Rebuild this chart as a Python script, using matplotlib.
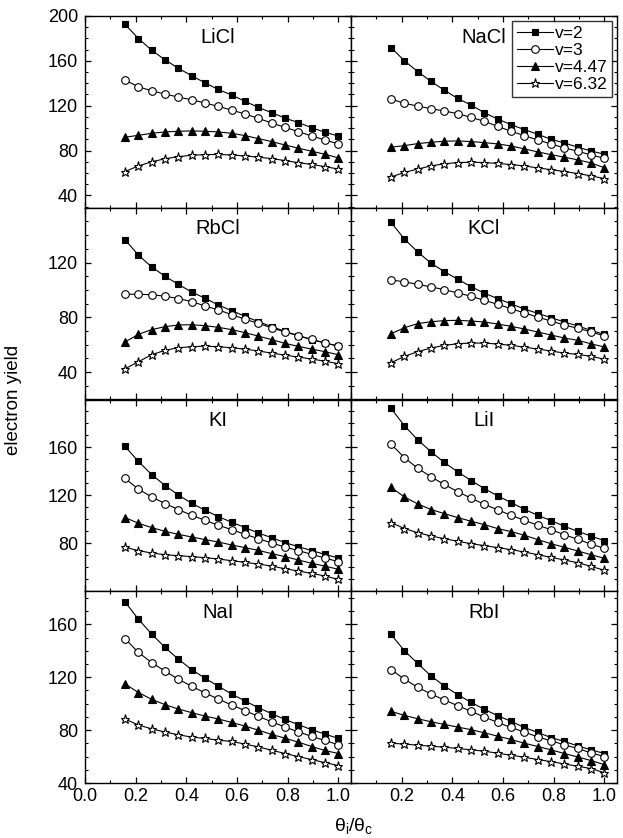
import matplotlib
matplotlib.use("Agg")
import matplotlib.pyplot as plt
from matplotlib.ticker import MultipleLocator, FixedLocator

plt.rcParams['font.family'] = ['Liberation Sans', 'DejaVu Sans']

theta = [0.158, 0.211, 0.263, 0.316, 0.368, 0.421, 0.474, 0.526, 0.579,
         0.632, 0.684, 0.737, 0.789, 0.842, 0.895, 0.947, 1.0]

series_labels = ["v=2", "v=3", "v=4.47", "v=6.32"]
panel_names = ["LiCl", "NaCl", "RbCl", "KCl", "KI", "LiI", "NaI", "RbI"]

LiCl = [
    [192.6, 179.9, 169.5, 160.9, 153.5, 146.7, 140.4, 134.5, 129.5, 123.9, 118.5, 113.8, 109.0, 104.9, 100.4, 96.3, 93.0],
    [142.8, 136.9, 133.3, 130.4, 127.7, 125.3, 122.4, 119.4, 116.1, 112.6, 108.7, 104.6, 100.7, 96.9, 93.0, 89.5, 85.9],
    [91.9, 93.6, 95.4, 96.6, 97.2, 97.5, 97.2, 96.6, 95.4, 93.3, 90.7, 88.0, 85.0, 82.1, 79.4, 76.7, 73.5],
    [61.3, 66.3, 70.0, 72.7, 74.6, 75.8, 76.4, 76.5, 76.0, 75.2, 74.1, 72.8, 71.1, 69.2, 67.6, 65.7, 63.5],
]
NaCl = [
    [171.9, 160.0, 150.5, 141.6, 133.9, 126.5, 120.6, 113.8, 108.1, 103.1, 98.7, 94.5, 90.1, 86.8, 83.0, 79.7, 76.7],
    [125.9, 122.1, 119.7, 117.3, 115.3, 112.9, 109.6, 106.1, 101.6, 97.2, 93.3, 89.5, 85.9, 82.4, 79.4, 76.1, 73.2],
    [83.0, 84.4, 86.2, 87.4, 88.3, 88.6, 88.0, 87.1, 85.9, 84.1, 81.5, 78.8, 76.4, 74.1, 71.7, 69.0, 64.7],
    [56.5, 60.5, 63.5, 66.3, 68.2, 69.3, 69.6, 69.3, 68.5, 67.5, 66.3, 64.5, 63.0, 61.3, 59.5, 57.5, 55.0],
]
RbCl = [
    [136.6, 125.4, 116.8, 110.0, 104.1, 98.5, 93.9, 89.0, 84.9, 80.7, 76.8, 73.2, 69.8, 66.6, 63.7, 61.2, 59.0],
    [96.9, 96.8, 96.5, 95.4, 93.7, 91.5, 88.3, 85.4, 82.0, 78.6, 75.6, 72.3, 69.3, 66.6, 63.9, 61.3, 59.0],
    [62.0, 67.6, 71.0, 73.2, 74.4, 74.6, 73.9, 72.7, 71.0, 68.8, 66.3, 63.7, 61.0, 58.8, 56.8, 54.9, 52.7],
    [42.4, 47.6, 52.7, 55.9, 57.8, 58.5, 59.0, 58.5, 57.8, 56.8, 55.4, 53.9, 52.4, 51.0, 49.5, 48.0, 46.1],
]
KCl = [
    [149.3, 137.1, 127.8, 119.5, 113.4, 107.8, 102.4, 97.6, 93.7, 89.8, 86.1, 82.9, 79.8, 76.6, 73.7, 70.5, 67.6],
    [107.3, 105.9, 104.1, 102.2, 100.2, 97.8, 95.4, 92.4, 89.5, 86.3, 83.2, 80.2, 77.3, 74.4, 72.0, 69.5, 66.3],
    [68.0, 72.4, 75.4, 76.8, 77.6, 77.8, 77.3, 76.6, 75.1, 73.4, 71.5, 69.3, 67.1, 64.9, 63.2, 60.7, 58.3],
    [46.8, 51.5, 54.9, 57.6, 59.5, 60.7, 61.2, 61.2, 60.5, 59.5, 58.3, 56.8, 55.4, 53.9, 52.9, 51.5, 49.5],
]
KI = [
    [160.8, 148.3, 137.4, 128.2, 120.4, 113.4, 107.6, 102.3, 97.6, 93.1, 88.6, 84.7, 80.6, 77.2, 73.9, 70.8, 67.7],
    [134.1, 125.2, 118.7, 113.2, 108.2, 103.4, 99.2, 95.1, 91.4, 87.5, 83.9, 80.3, 76.9, 73.9, 70.8, 67.7, 64.7],
    [101.5, 96.7, 93.1, 90.0, 87.5, 85.3, 83.1, 81.1, 78.6, 76.4, 74.1, 71.4, 68.9, 66.1, 63.3, 61.0, 58.3],
    [76.7, 73.9, 71.9, 70.5, 69.7, 68.9, 68.0, 66.9, 65.5, 64.1, 62.7, 61.0, 58.8, 56.9, 54.9, 52.7, 49.9],
]
LiI = [
    [192.6, 178.1, 166.4, 156.4, 147.5, 139.7, 132.4, 125.7, 119.6, 114.0, 108.4, 103.4, 99.0, 94.2, 90.0, 86.1, 82.2],
    [162.8, 151.4, 142.7, 135.5, 129.1, 123.2, 117.6, 112.6, 107.9, 103.4, 99.2, 95.1, 91.4, 87.2, 83.3, 79.4, 75.8],
    [126.6, 118.7, 112.9, 108.2, 104.8, 101.5, 98.4, 95.6, 92.3, 89.8, 86.7, 83.1, 79.7, 76.7, 73.6, 70.5, 67.5],
    [97.3, 92.3, 88.9, 86.1, 83.9, 81.7, 79.7, 78.1, 76.4, 74.7, 72.8, 70.5, 68.3, 66.1, 63.8, 60.8, 57.5],
]
NaI = [
    [177.0, 163.8, 152.7, 142.5, 133.7, 125.8, 119.2, 113.2, 107.3, 102.0, 97.0, 92.4, 88.1, 84.1, 80.3, 77.0, 73.7],
    [149.1, 138.7, 131.1, 124.6, 118.5, 113.2, 108.1, 103.5, 99.0, 94.7, 90.4, 86.3, 82.3, 78.7, 75.2, 72.2, 68.9],
    [114.9, 108.4, 103.3, 99.2, 96.0, 93.2, 90.6, 88.4, 85.8, 83.0, 80.0, 76.7, 73.9, 70.9, 67.6, 64.6, 62.3],
    [88.4, 83.8, 81.0, 78.5, 76.5, 74.7, 73.7, 72.4, 71.4, 69.4, 67.3, 64.8, 62.3, 60.0, 57.7, 55.4, 53.2],
]
RbI = [
    [152.4, 140.0, 130.4, 121.0, 113.4, 106.8, 101.0, 95.7, 90.9, 86.6, 82.0, 78.2, 74.4, 71.4, 68.1, 65.1, 62.3],
    [125.8, 118.5, 112.4, 107.3, 102.8, 98.5, 94.2, 89.9, 85.8, 82.0, 78.5, 74.9, 71.9, 68.9, 66.1, 62.8, 60.0],
    [94.2, 91.1, 88.6, 86.3, 84.3, 82.3, 80.3, 78.0, 75.4, 72.9, 70.1, 67.6, 65.1, 62.3, 59.7, 57.0, 53.9],
    [70.1, 69.4, 68.6, 67.8, 67.1, 66.1, 65.1, 64.1, 62.5, 61.0, 59.5, 57.7, 56.2, 54.4, 52.7, 50.9, 47.8],
]
panel_data = [LiCl, NaCl, RbCl, KCl, KI, LiI, NaI, RbI]

row_ylims = [(29, 200), (20, 160), (40, 200), (40, 185)]
row_yticks = [[40, 80, 120, 160, 200], [40, 80, 120], [80, 120, 160], [40, 80, 120, 160]]
x_ticks_left = [0.0, 0.2, 0.4, 0.6, 0.8, 1.0]
x_ticks_right = [0.2, 0.4, 0.6, 0.8, 1.0]

markers = ['s', 'o', '^', '*']
facecolors = ['black', 'white', 'black', 'white']
msizes = [5, 5.5, 6, 6.5]

fig = plt.figure(figsize=(6.23, 8.38), dpi=100)
L, R, B, T = 85 / 623, 617 / 623, 1 - 783 / 838, 1 - 16 / 838
W = (R - L) / 2
H = (T - B) / 4

axes = []
for r in range(4):
    for c in range(2):
        ax = fig.add_axes([L + c * W, T - (r + 1) * H, W, H])
        axes.append(ax)
        data = panel_data[r * 2 + c]
        for k in range(4):
            ax.plot(theta, data[k], color='black', lw=0.8, marker=markers[k],
                    ms=msizes[k], mfc=facecolors[k], mec='black', mew=0.8,
                    label=series_labels[k])
        ax.set_xlim(0.0, 1.05)
        ax.set_ylim(*row_ylims[r])
        ax.yaxis.set_major_locator(FixedLocator(row_yticks[r]))
        ax.yaxis.set_minor_locator(MultipleLocator(10))
        ax.xaxis.set_minor_locator(MultipleLocator(0.1))
        ax.tick_params(which='both', direction='in', top=True, right=True,
                       labelsize=13)
        ax.tick_params(which='major', length=4.5, width=0.9)
        ax.tick_params(which='minor', length=2.5, width=0.8)
        for s in ax.spines.values():
            s.set_linewidth(1.0)
        if r == 3:
            ticks = x_ticks_left if c == 0 else x_ticks_right
            ax.xaxis.set_major_locator(FixedLocator(ticks))
            ax.set_xticklabels([f"{v:.1f}" for v in ticks])
            ax.tick_params(axis='x', pad=3.5)
        else:
            ax.xaxis.set_major_locator(FixedLocator(x_ticks_left))
            ax.set_xticklabels([])
        if c == 1:
            ax.set_yticklabels([])
        else:
            ax.tick_params(axis='y', pad=5)
        ax.text(0.5, 0.89, panel_names[r * 2 + c], transform=ax.transAxes,
                ha='center', va='center', fontsize=14.5)

leg = axes[1].legend(loc='upper right', fontsize=12.5, frameon=True, fancybox=False,
                     edgecolor='black', borderpad=0.25, labelspacing=0.12,
                     handlelength=2.1, handletextpad=0.1, borderaxespad=0.3)
leg.get_frame().set_linewidth(1.0)

fig.text(0.022, 0.523, "electron yield", rotation=90, ha='center', va='center', fontsize=13.5)
fig.text(0.568, 0.002, r"$\mathregular{\theta_i/\theta_c}$", ha='center', va='bottom', fontsize=14)

fig.savefig("out.png", dpi=100)
